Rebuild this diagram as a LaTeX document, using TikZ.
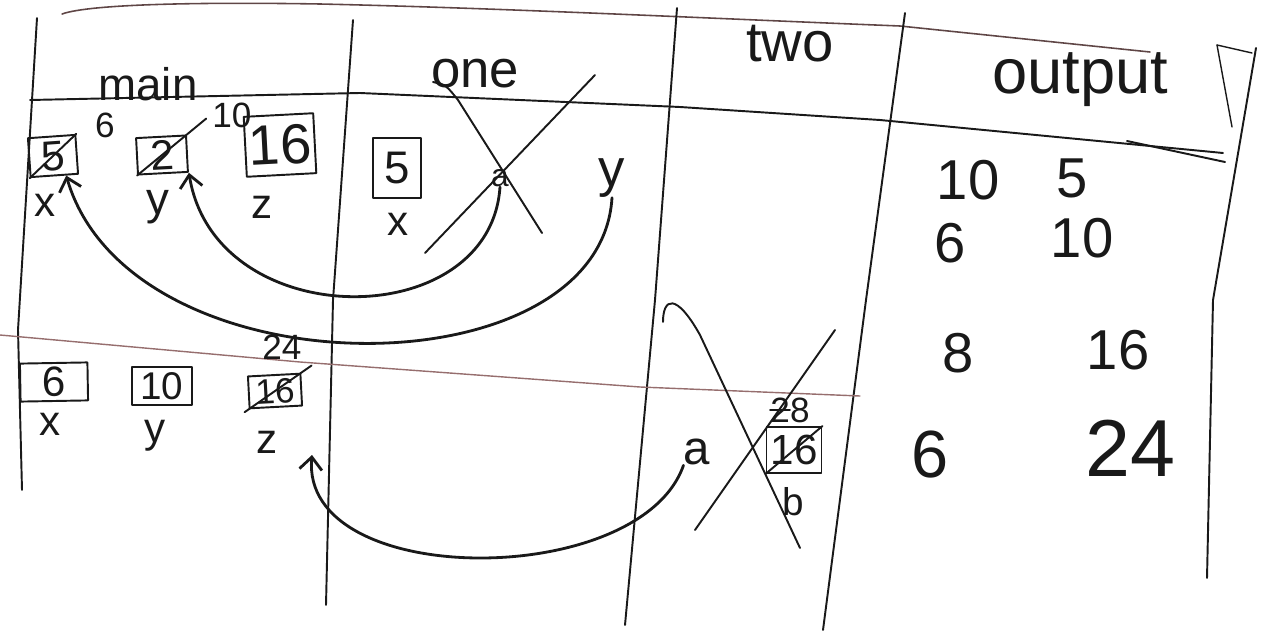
\documentclass[tikz,border=0pt]{standalone}
\usepackage{fontspec}
\setmainfont{Liberation Sans}
\usepackage{tikz}
\usetikzlibrary{arrows.meta, positioning}
\definecolor{Ink}{RGB}{25,25,25}
\definecolor{RuleDark}{RGB}{95,70,70}
\definecolor{RuleLine}{RGB}{150,110,110}
\newcommand{\handsize}[1]{\fontsize{#1}{#1}\selectfont}

\begin{document}
\begin{tikzpicture}[x=0.02cm, y=-0.02cm, line cap=round, line join=round,
    ink/.style={draw=Ink, line width=1.1pt},
    rule/.style={draw=RuleLine, line width=0.8pt},
    valbox/.style={draw=Ink, line width=1.1pt, inner sep=2pt, text=Ink,
                   minimum width=1cm, minimum height=0.8cm, font=\handsize{26}},
    varname/.style={text=Ink, font=\handsize{24}, inner sep=0pt},
    small/.style={text=Ink, font=\handsize{20}, inner sep=0pt},
    head/.style={text=Ink, inner sep=0pt},
    outnum/.style={text=Ink, font=\handsize{32}, inner sep=0pt},
    link/.style={draw=Ink, line width=1.6pt, -{Straight Barb[length=2.5mm, width=4.5mm]}},
    strike/.style={draw=Ink, line width=1.1pt}]
  \useasboundingbox (0,0) rectangle (1264,632);

  \draw[draw=RuleDark, line width=0.9pt] (62,14) .. controls (90,4) and (200,2) .. (320,4)
        .. controls (500,8) and (700,18) .. (900,26) -- (1150,52);
  \draw[ink] (37,18) -- (18,330) -- (22,490);
  \draw[ink] (353,20) -- (333,300) -- (326,605);
  \draw[ink] (677,8) -- (655,300) -- (625,625);
  \draw[ink] (905,13) -- (866,300) -- (823,630);
  \draw[ink] (1256,48) -- (1213,300) -- (1207,578);
  \draw[ink, line width=0.8pt] (1217,45) -- (1232,127);
  \draw[ink, line width=0.8pt] (1217,45) -- (1252,53);
  \draw[ink] (30,100) -- (360,93) -- (680,107) -- (880,120) -- (1223,153);
  \draw[ink] (1127,141) -- (1225,162);
  \draw[rule] (0,335) -- (300,362) -- (640,387) -- (860,396);

  \node[head, font=\handsize{26}] (hMain) at (148,84) {main};
  \node[head, font=\handsize{30}] (hOne) at (475,74) {one};
  \node[head, font=\handsize{32}] (hTwo) at (790,44) {two};
  \node[head, font=\handsize{36}] (hOut) at (1080,80) {output};

  \node[valbox, rotate=4, minimum width=0.95cm, minimum height=0.78cm, font=\handsize{24}] (mX) at (53,156) {5};
  \node[valbox, rotate=3, minimum height=0.7cm, font=\handsize{24}] (mY) at (162,155) {2};
  \node[valbox, rotate=3, minimum width=1.1cm, minimum height=1.2cm, font=\handsize{32}] (mZ) at (280,145) {16};
  \node[varname] (mXn) at (45,205) {x};
  \node[varname, font=\handsize{26}] (mYn) at (158,207) {y};
  \node[varname] (mZn) at (262,207) {z};
  \node[small] (mX6) at (105,125) {6};
  \node[small] (mY10) at (232,115) {10};
  \draw[strike] (mX.south west) -- (mX.north east);
  \draw[strike, shorten >=-0.5cm] (mY.south west) -- (mY.north east);

  \node[valbox, rotate=1, minimum width=1.35cm, minimum height=0.76cm, font=\handsize{24}] (lX) at (54,382) {6};
  \node[valbox, minimum width=1.2cm, minimum height=0.75cm, font=\handsize{22}] (lY) at (162,386) {10};
  \node[valbox, rotate=3, minimum width=1.05cm, minimum height=0.62cm, font=\handsize{20}] (lZ) at (275,391) {16};
  \node[small] (lZ24) at (282,347) {24};
  \draw[strike, shorten <=-0.1cm, shorten >=-0.25cm] (lZ.south west) -- (lZ.north east);
  \node[varname] (lXn) at (50,424) {x};
  \node[varname] (lYn) at (155,436) {y};
  \node[varname] (lZn) at (267,442) {z};

  \node[valbox, minimum width=0.95cm, minimum height=1.2cm] (oX) at (397,168) {5};
  \node[varname] (oXn) at (398,224) {x};
  \node[varname, font=\handsize{18}] (oA) at (500,178) {a};
  \node[varname, font=\handsize{30}] (oY) at (612,178) {y};
  \draw[ink] (433,82) .. controls (446,85) .. (458,100) -- (542,233);
  \draw[ink] (425,253) -- (595,75);

  \node[varname, font=\handsize{27}] (tA) at (697,452) {a};
  \node[valbox, minimum width=1.1cm, minimum height=0.92cm, font=\handsize{24}] (tB) at (794,450) {16};
  \node[small] (tB28) at (790,410) {28};
  \draw[strike] (tB28.west) -- (tB28.center);
  \draw[strike] (tB.south west) -- (tB.north east);
  \node[varname, font=\handsize{22}] (tBn) at (793,502) {b};
  \draw[ink] (695,530) -- (835,330);
  \draw[ink] (663,322) .. controls (663,298) and (676,292) .. (700,335) -- (800,548);

  \foreach \px/\py/\v/\n in {968/180/10/o1, 1072/178/5/o2, 950/243/6/o3,
      1082/238/10/o4, 958/353/8/o5, 1118/350/16/o6}{
    \node[outnum] (\n) at (\px,\py) {\v};
  }
  \node[outnum, font=\handsize{38}] (o7) at (930,455) {6};
  \node[outnum, font=\handsize{46}] (o8) at (1130,448) {24};

  \coordinate (zTip) at (312,455);
  \draw[link] (oA.south) .. controls (490,335) and (215,335) .. (mY.south east);
  \draw[link] (oY.south) .. controls (600,395) and (130,395) .. (mX.-60);
  \draw[link] (tA.south west) .. controls (640,590) and (300,590) .. (zTip);
\end{tikzpicture}
\end{document}
